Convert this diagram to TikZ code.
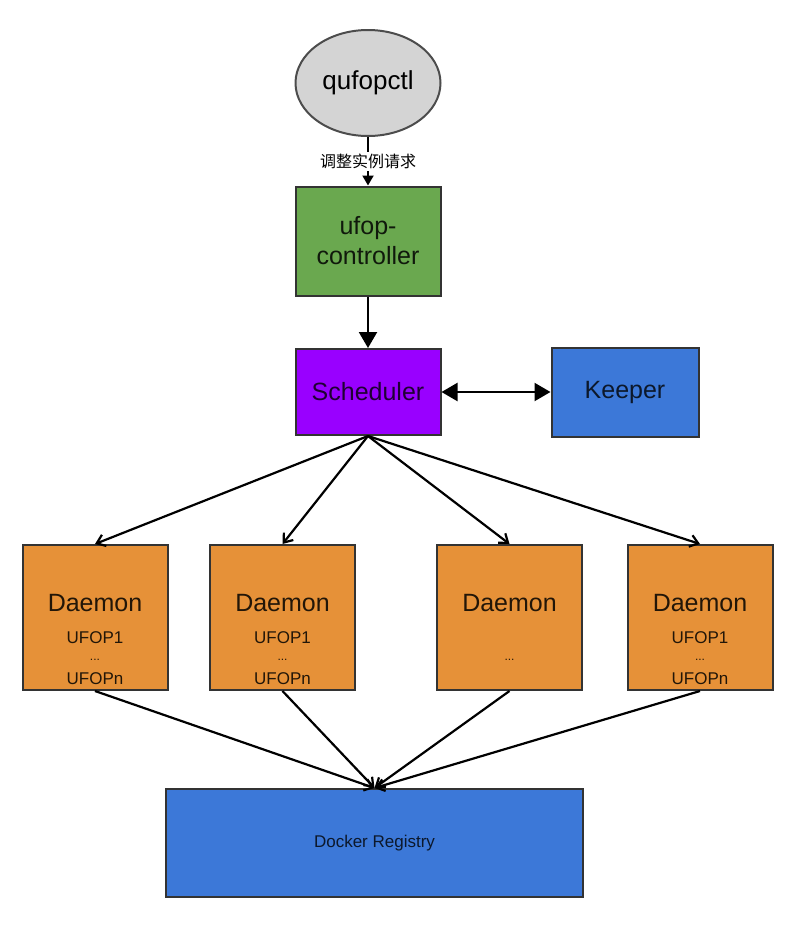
\documentclass[tikz,border=0pt]{standalone}
\usepackage{fontspec}
\setmainfont{Liberation Sans}
\newfontfamily\cjk{Noto Sans CJK SC}
\usepackage{xcolor}
\definecolor{ctlgray}{RGB}{212, 212, 212}
\definecolor{ctrlgreen}{RGB}{106, 168, 79}
\definecolor{schedpurple}{RGB}{153, 0, 255}
\definecolor{regblue}{RGB}{60, 120, 216}
\definecolor{daemonorange}{RGB}{230, 145, 56}
\definecolor{edge}{RGB}{51, 51, 51}
\usetikzlibrary{
    shapes.geometric,
    arrows.meta,
    positioning
}
\tikzstyle{box} = [
    rectangle, draw=edge,
    line width=2pt,
    minimum width=145pt,
    text centered,
    align=center,
    font=\fontsize{25}{30}\selectfont
]
\tikzstyle{daemon} = [
    box,
    minimum width=145pt,
    minimum height=145pt,
    fill=daemonorange
]
\tikzstyle{daemontext} = [
    align=center,
    inner sep=0pt,
    text=black!85!daemonorange,
    font=\fontsize{17}{19}\selectfont
]
\tikzstyle{bigarrow} = [
    line width=2.2pt,
    -{Triangle[length=16pt,width=18pt]}
]
\tikzstyle{fanarrow} = [
    line width=2.2pt,
    -{Straight Barb[length=8pt,width=12pt]}
]

\begin{document}
\begin{tikzpicture}[x=1pt, y=-1pt]

\useasboundingbox (0,0) rectangle (800,927);

\node (ctl) [ellipse, draw=black!70, line width=2pt, fill=ctlgray,
    minimum width=145pt, minimum height=106pt,
    font=\fontsize{26}{30}\selectfont] at (368,83) {qufopctl};
\node (ctrl) [box, fill=ctrlgreen, minimum height=109pt,
    text=black!85!ctrlgreen, below=48.5pt of ctl] {ufop-\\controller};
\node (sched) [box, fill=schedpurple, minimum height=86pt,
    text=black!80!schedpurple, below=51.5pt of ctrl] {Scheduler};
\node (keeper) [box, fill=regblue, minimum width=147pt, minimum height=89pt,
    text=black!80!regblue, right=109pt of sched] {Keeper};

% Daemons
\node (d1) [daemon] at (95,617.5) {};
\node (d2) [daemon] at (282.5,617.5) {};
\node (d3) [daemon] at (509.5,617.5) {};
\node (d4) [daemon] at (700,617.5) {};

\node (d1txt) [daemontext, yshift=-22pt] at (d1.center)
    {{\fontsize{25}{25}\selectfont Daemon}\\[13pt] UFOP1\\[-2pt]
     {\fontsize{12}{12}\selectfont ...}\\[5pt] UFOPn};
\node (d2txt) [daemontext, yshift=-22pt] at (d2.center)
    {{\fontsize{25}{25}\selectfont Daemon}\\[13pt] UFOP1\\[-2pt]
     {\fontsize{12}{12}\selectfont ...}\\[5pt] UFOPn};
\node (d3txt) [daemontext, yshift=-22pt] at (d3.center)
    {{\fontsize{25}{25}\selectfont Daemon}\\[13pt] \phantom{UFOP1}\\[-2pt]
     {\fontsize{12}{12}\selectfont ...}\\[5pt] \phantom{UFOPn}};
\node (d4txt) [daemontext, yshift=-22pt] at (d4.center)
    {{\fontsize{25}{25}\selectfont Daemon}\\[13pt] UFOP1\\[-2pt]
     {\fontsize{12}{12}\selectfont ...}\\[5pt] UFOPn};

\node (docker) [box, fill=regblue, minimum width=417pt, minimum height=108pt,
    text=black!80!regblue, font=\fontsize{17}{20}\selectfont]
    at (374.5,843) {Docker Registry};

\draw [line width=2pt, -{Triangle[length=10pt,width=11pt]}] (ctl) --
    node (req) [fill=white, inner sep=2pt, font=\cjk\fontsize{16}{18}\selectfont]
    {调整实例请求} (ctrl);
\draw [bigarrow] (ctrl) -- (sched);
\draw [line width=2.2pt,
    {Triangle[length=16pt,width=18pt]}-{Triangle[length=16pt,width=18pt]}]
    (sched) -- (keeper);

\draw [fanarrow] (sched.south) -- (d1.north);
\draw [fanarrow] (sched.south) -- (d2.north);
\draw [fanarrow] (sched.south) -- (d3.north);
\draw [fanarrow] (sched.south) -- (d4.north);

\draw [fanarrow] (d1.south) -- (docker.north);
\draw [fanarrow] (d2.south) -- (docker.north);
\draw [fanarrow] (d3.south) -- (docker.north);
\draw [fanarrow] (d4.south) -- (docker.north);

\end{tikzpicture}
\end{document}
